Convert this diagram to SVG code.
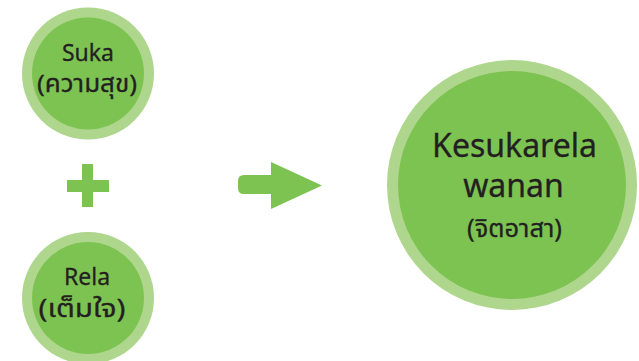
<svg xmlns="http://www.w3.org/2000/svg" width="639" height="361" viewBox="0 0 639 361">
<style>
.ring{fill:#AED68C}
.core{fill:#7DC352}
.t{font-family:"Noto Sans","Noto Sans Thai",Tahoma,"DejaVu Sans",sans-serif;fill:#231F20;text-anchor:middle;stroke:#231F20;stroke-width:0.3}
.s{font-size:23px}
.th{font-size:24px}
.b{font-size:32px}
.m{font-size:25px}
.g{fill:#7DC352}
</style>
<rect width="639" height="361" fill="#FFFFFF"/>
<g id="suka">
<circle class="ring" cx="88" cy="73.5" r="66"/>
<circle class="core" cx="88" cy="73.5" r="56"/>
<text class="t s" x="88" y="61">Suka</text>
<text class="t th" x="87" y="92" textLength="100" lengthAdjust="spacingAndGlyphs">(ความสุข)</text>
</g>
<g id="plus">
<rect class="g" x="82" y="164" width="11" height="43"/>
<rect class="g" x="67" y="180" width="42" height="12"/>
</g>
<g id="rela">
<circle class="ring" cx="88" cy="298" r="66"/>
<circle class="core" cx="88" cy="298" r="56"/>
<text class="t s" x="87" y="285">Rela</text>
<text class="t th" x="82" y="317" style="font-size:25px" textLength="87" lengthAdjust="spacingAndGlyphs">(เต็มใจ)</text>
</g>
<g id="connectors">
<path class="g" d="M244 175 H271 V162 L322 185.5 L271 209 V194 H244 Q238 194 238 188 V181 Q238 175 244 175 Z"/>
</g>
<g id="kesukarela">
<circle class="ring" cx="512" cy="185" r="125"/>
<circle class="core" cx="512" cy="185" r="114"/>
<text class="t b" x="514.5" y="157">Kesukarela</text>
<text class="t b" x="513.5" y="197">wanan</text>
<text class="t m" x="514.5" y="237" textLength="95" lengthAdjust="spacingAndGlyphs">(จิตอาสา)</text>
</g>
</svg>
